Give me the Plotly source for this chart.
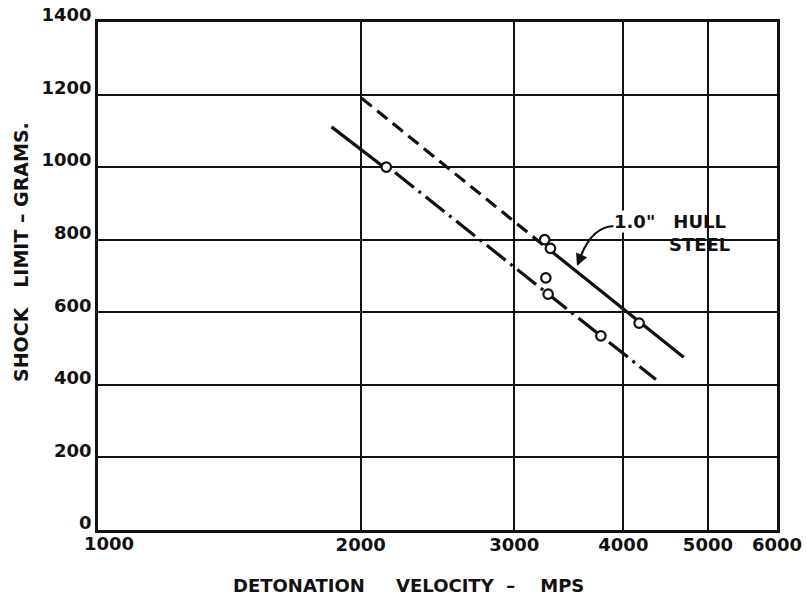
import numpy as np
import plotly.graph_objects as go

# ---- data ----
upper_dash_x = [2005, 3240]
upper_dash_y = [1190, 785]
upper_solid_x = [3320, 4690]
upper_solid_y = [765, 476]

lower_solid_x = [1852, 2140]
lower_solid_y = [1111, 995]
lower_dashdot_x = [2190, 4359]
lower_dashdot_y = [985, 415]

points_x = [2140, 3250, 3300, 3260, 3280, 3770, 4170]
points_y = [1000, 800, 776, 695, 650, 535, 570]

x_ticks = [1000, 2000, 3000, 4000, 5000, 6000]
x_ticklabels = ["", "2000", "3000", "4000", "5000", "6000"]   # "1000" placed separately
y_ticks = [0, 200, 400, 600, 800, 1000, 1200, 1400]

FONT = "DejaVu Sans"
BLK = "#111111"

# plot area in pixels (for paper-coordinate decorations)
L, R, T, B = 98, 30, 22, 72
W, H = 807, 602
PW, PH = W - L - R, H - T - B


def px(x):
    return (x - L) / PW


def py(y):
    return (T + PH - y) / PH


fig = go.Figure()
lw = 3.2
fig.add_trace(go.Scatter(x=upper_dash_x, y=upper_dash_y, mode="lines",
                         line=dict(color=BLK, width=lw, dash="13px,7px"), showlegend=False))
fig.add_trace(go.Scatter(x=upper_solid_x, y=upper_solid_y, mode="lines",
                         line=dict(color=BLK, width=lw), showlegend=False))
fig.add_trace(go.Scatter(x=lower_solid_x, y=lower_solid_y, mode="lines",
                         line=dict(color=BLK, width=lw), showlegend=False))
fig.add_trace(go.Scatter(x=lower_dashdot_x, y=lower_dashdot_y, mode="lines",
                         line=dict(color=BLK, width=lw, dash="24px,6px,3px,6px"), showlegend=False))
fig.add_trace(go.Scatter(x=points_x, y=points_y, mode="markers",
                         marker=dict(symbol="circle", size=9.5, color="white",
                                     line=dict(color=BLK, width=2.2)),
                         showlegend=False))

tickfont = dict(family=FONT, size=18, color=BLK, weight="bold")

fig.update_xaxes(type="log", range=[3, np.log10(6000)],
                 tickvals=x_ticks, ticktext=x_ticklabels,
                 showgrid=True, gridcolor=BLK, gridwidth=1.5,
                 showline=True, linecolor=BLK, linewidth=2.5, mirror=True,
                 ticks="", tickfont=tickfont, zeroline=False, automargin=False,
                 ticklabelstandoff=-3)
fig.update_yaxes(range=[0, 1400], tickvals=y_ticks,
                 showgrid=True, gridcolor=BLK, gridwidth=1.5,
                 showline=True, linecolor=BLK, linewidth=2.5, mirror=True,
                 ticks="", tickfont=tickfont, zeroline=False, automargin=False,
                 ticklabelshift=-7, ticklabelstandoff=0)

titlefont = dict(family=FONT, size=18, color=BLK, weight="bold")
ytitlefont = dict(family=FONT, size=19, color=BLK, weight="bold")
notefont = dict(family=FONT, size=18, color=BLK, weight="bold")

annotations = [
    dict(text=str(x_ticks[0]), xref="paper", yref="paper",
         x=px(109), y=py(543), showarrow=False, font=tickfont,
         xanchor="center", yanchor="middle"),
    dict(text="DETONATION     VELOCITY  \u2013    MPS", xref="paper", yref="paper",
         x=px(231), y=py(585), showarrow=False, font=titlefont,
         xanchor="left", yanchor="middle"),
    dict(text="SHOCK   LIMIT \u2013 GRAMS.", xref="paper", yref="paper",
         x=px(21), y=py(252), showarrow=False, font=ytitlefont, textangle=-90,
         xanchor="center", yanchor="middle"),
    dict(text='1.0"', xref="paper", yref="paper", x=px(634), y=py(222),
         showarrow=False, font=notefont, xanchor="center", yanchor="middle",
         bgcolor="white", borderpad=0),
    dict(text="HULL<br>STEEL", xref="paper", yref="paper", x=px(699), y=py(233),
         showarrow=False, font=notefont, xanchor="center", yanchor="middle",
         align="center"),
    # arrow head
    dict(text="", xref="paper", yref="paper", x=px(577), y=py(266),
         ax=5, ay=-12, showarrow=True, arrowhead=2, arrowsize=1.2,
         arrowwidth=2, arrowcolor=BLK),
]

shapes = [
    dict(type="rect", xref="paper", yref="paper", layer="between",
         x0=px(633), x1=px(742), y0=py(243), y1=py(203),
         fillcolor="white", line=dict(width=0)),
    dict(type="path", xref="paper", yref="paper", layer="above",
         path=f"M {px(615)},{py(226)} Q {px(592)},{py(226)} {px(580)},{py(258)}",
         line=dict(color=BLK, width=2.2)),
]

fig.update_layout(width=W, height=H, margin=dict(l=L, r=R, t=T, b=B, autoexpand=False),
                  paper_bgcolor="white", plot_bgcolor="white",
                  annotations=annotations, shapes=shapes)

fig.write_html("out.html", config={"displayModeBar": False},
               post_script="document.body.style.margin='0';document.body.style.padding='0';")
